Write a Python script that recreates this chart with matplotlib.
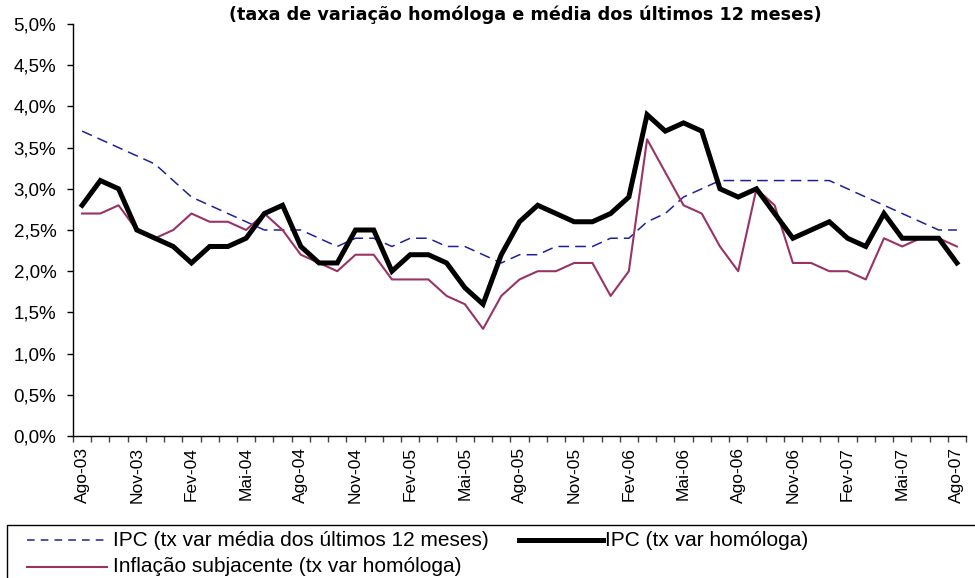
import matplotlib
matplotlib.use("Agg")
import matplotlib.pyplot as plt
from matplotlib import font_manager as fm
from matplotlib.lines import Line2D
from matplotlib.patches import Rectangle
import numpy as np

# ---- dados (Ago-03 .. Ago-07, mensal) ----
meses = ["Jan", "Fev", "Mar", "Abr", "Mai", "Jun", "Jul", "Ago", "Set", "Out", "Nov", "Dez"]
inicio_mes, inicio_ano, n_meses = 7, 3, 49  # Ago-03

ipc_media12 = [3.7, 3.6, 3.5, 3.4, 3.3, 3.1, 2.9, 2.8, 2.7, 2.6, 2.5, 2.5,
               2.5, 2.4, 2.3, 2.4, 2.4, 2.3, 2.4, 2.4, 2.3, 2.3, 2.2, 2.1,
               2.2, 2.2, 2.3, 2.3, 2.3, 2.4, 2.4, 2.6, 2.7, 2.9, 3.0, 3.1,
               3.1, 3.1, 3.1, 3.1, 3.1, 3.1, 3.0, 2.9, 2.8, 2.7, 2.6, 2.5,
               2.5]
ipc_homologa = [2.8, 3.1, 3.0, 2.5, 2.4, 2.3, 2.1, 2.3, 2.3, 2.4, 2.7, 2.8,
                2.3, 2.1, 2.1, 2.5, 2.5, 2.0, 2.2, 2.2, 2.1, 1.8, 1.6, 2.2,
                2.6, 2.8, 2.7, 2.6, 2.6, 2.7, 2.9, 3.9, 3.7, 3.8, 3.7, 3.0,
                2.9, 3.0, 2.7, 2.4, 2.5, 2.6, 2.4, 2.3, 2.7, 2.4, 2.4, 2.4,
                2.1]
inflacao_subjacente = [2.7, 2.7, 2.8, 2.5, 2.4, 2.5, 2.7, 2.6, 2.6, 2.5, 2.7, 2.5,
                       2.2, 2.1, 2.0, 2.2, 2.2, 1.9, 1.9, 1.9, 1.7, 1.6, 1.3, 1.7,
                       1.9, 2.0, 2.0, 2.1, 2.1, 1.7, 2.0, 3.6, 3.2, 2.8, 2.7, 2.3,
                       2.0, 3.0, 2.8, 2.1, 2.1, 2.0, 2.0, 1.9, 2.4, 2.3, 2.4, 2.4,
                       2.3]

rotulos = []
for k in range(n_meses):
    m = (inicio_mes + k) % 12
    a = inicio_ano + (inicio_mes + k) // 12
    rotulos.append(f"{meses[m]}-{a:02d}")

titulo = "(taxa de variação homóloga e média dos últimos 12 meses)"
nomes = ["IPC (tx var média dos últimos 12 meses)",
         "IPC (tx var homóloga)",
         "Inflação subjacente (tx var homóloga)"]

COR_MEDIA = "#1f1f9e"
COR_SUBJ = "#993366"

# ---- fontes ----
instaladas = {f.name for f in fm.fontManager.ttflist}
tem_narrow = "Liberation Sans Narrow" in instaladas
plt.rcParams["font.family"] = ["Liberation Sans", "DejaVu Sans"]

W, H = 975, 578
fig = plt.figure(figsize=(W / 100, H / 100), dpi=100)
ax = fig.add_axes([73 / W, 1 - 436 / H, (966 - 73) / W, (436 - 24) / H])

x = np.arange(n_meses)
ax.plot(x, ipc_media12, color=COR_MEDIA, lw=1.1, dashes=(7, 4))
ax.plot(x, inflacao_subjacente, color=COR_SUBJ, lw=1.5)
ax.plot(x, ipc_homologa, color="black", lw=3.6, solid_joinstyle="miter")

ax.set_xlim(-0.5, n_meses - 0.5)
ax.set_ylim(0, 5.0)

yt = np.arange(0, 5.01, 0.5)
ax.set_yticks(yt)
ax.set_yticklabels([f"{v:.1f}%".replace(".", ",") for v in yt], fontsize=13.5)
ax.tick_params(axis="y", direction="out", length=4, width=1, pad=8)

ax.set_xticks(x[::3])
ax.set_xticklabels(rotulos[::3], rotation=90, fontsize=12.5, ha="center", va="top")
ax.set_xticks(np.arange(-0.5, n_meses, 1.0), minor=True)
ax.tick_params(axis="x", which="major", length=0, pad=8)
ax.tick_params(axis="x", which="minor", direction="out", length=4.5, width=1, color="#444444")

for s in ("top", "right"):
    ax.spines[s].set_visible(False)
for s in ("left", "bottom"):
    ax.spines[s].set_linewidth(1.0)

fig.text(525 / W, 1 - 15 / H, titulo, ha="center", va="center",
         fontsize=12.7, fontweight="bold", family="DejaVu Sans")

# ---- legenda (caixa que sai da figura, como no original) ----
fig.add_artist(Rectangle((7 / W, -0.1), 1.2, 0.1 + (H - 525) / H,
                         transform=fig.transFigure, fill=False, lw=1.0, ec="black"))
if tem_narrow:
    leg_font = dict(family="Liberation Sans Narrow", fontsize=17.5)
else:
    leg_font = dict(family="Liberation Sans", fontsize=15)

entradas = [
    (27, 107, 113, 540, dict(color=COR_MEDIA, lw=1.1, dashes=(5, 4)), nomes[0]),
    (519, 603, 605, 540, dict(color="black", lw=3.6), nomes[1]),
    (27, 107, 113, 567, dict(color=COR_SUBJ, lw=1.5), nomes[2]),
]
for x0, x1, xt, yy, estilo, nome in entradas:
    fig.add_artist(Line2D([x0 / W, x1 / W], [1 - yy / H, 1 - yy / H],
                          transform=fig.transFigure, **estilo))
    fig.text(xt / W, 1 - yy / H, nome, ha="left", va="center", **leg_font)

fig.savefig("out.png", dpi=100)
